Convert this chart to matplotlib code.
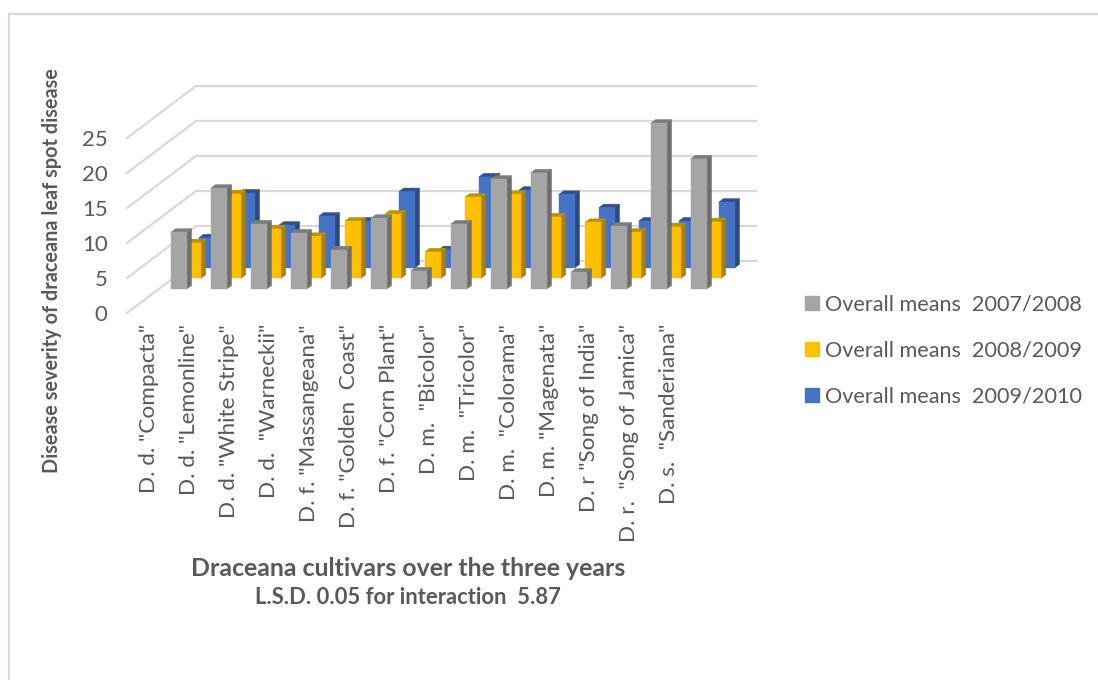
import matplotlib
matplotlib.use("Agg")
import matplotlib.pyplot as plt
import numpy as np
from matplotlib.patches import Patch, Polygon, Rectangle

W, H = 1098, 680

cultivars = ['D. d. "Compacta"', 'D. d. "Lemonline"', 'D. d. "White Stripe"',
             'D. d.  "Warneckii"', 'D. f. "Massangeana"', 'D. f. "Golden  Coast"',
             'D. f. "Corn Plant"', 'D. m.  "Bicolor"', 'D. m.  "Tricolor"',
             'D. m.  "Colorama"', 'D. m. "Magenata"', 'D. r "Song of India"',
             'D. r.  "Song of Jamica"', 'D. s.  "Sanderiana"']

means_2007 = [8.1, 14.4, 9.3, 8.0, 5.6, 10.1, 2.6, 9.3, 15.7, 16.6, 2.4, 9.0, 23.7, 18.6]
means_2008 = [5.1, 12.1, 7.1, 6.0, 8.2, 9.2, 3.8, 11.6, 12.0, 8.8, 8.0, 6.6, 7.4, 8.1]
means_2009 = [4.3, 10.7, 6.1, 7.4, 6.7, 10.9, 2.6, 13.0, 11.1, 10.5, 8.6, 6.7, 6.7, 9.4]

y_ticks = [0, 5, 10, 15, 20, 25]

# front, side and top shade of each series, back row first
series = [
    ("Overall means  2009/2010", means_2009, 0.866, "#4472C4", "#2A4A80", "#2F528F"),
    ("Overall means  2008/2009", means_2008, 0.664, "#FFC000", "#A98000", "#BF9000"),
    ("Overall means  2007/2008", means_2007, 0.460, "#A5A5A5", "#6E6E6E", "#7C7C7C"),
]

# oblique projection of the depth axis, in data units for depth 1
DEPTH_X = 1.725
DEPTH_Y = 7.43
BAR_DEPTH = 0.07
BAR_LEFT = 0.30
BAR_WIDTH = 0.40
TEXT = "#595959"
GRID = "#D9D9D9"

plt.rcParams["font.family"] = ["Lato", "DejaVu Sans"]

fig = plt.figure(figsize=(W / 100, H / 100), dpi=100)
ax = fig.add_axes([127 / W, 1 - 313 / H, 560 / W, 175 / H])
ax.set_xlim(0, 14)
ax.set_ylim(0, 25)
for s in ax.spines.values():
    s.set_visible(False)


def project(x, v, d):
    return x + d * DEPTH_X, v + d * DEPTH_Y


def draw_bar(x, v, d, front, side, top):
    x1 = x + BAR_WIDTH
    d1 = d + BAR_DEPTH
    faces = [
        ([(x1, 0, d), (x1, 0, d1), (x1, v, d1), (x1, v, d)], side),
        ([(x, v, d), (x1, v, d), (x1, v, d1), (x, v, d1)], top),
        ([(x, 0, d), (x1, 0, d), (x1, v, d), (x, v, d)], front),
    ]
    for pts, color in faces:
        ax.add_patch(Polygon([project(*p) for p in pts], closed=True, fc=color,
                             ec=color, lw=0.3, clip_on=False, zorder=3))


# back wall gridlines and the side wall running to the front
for t in y_ticks:
    xs = [0, DEPTH_X, 14 + DEPTH_X]
    ys = [t, t + DEPTH_Y, t + DEPTH_Y]
    ax.plot(xs, ys, color=GRID, lw=1.6, clip_on=False, zorder=1,
            solid_joinstyle="miter")

for name, values, depth, front, side, top in series:
    for i, v in enumerate(values):
        draw_bar(i + BAR_LEFT, v, depth, front, side, top)

ax.set_yticks(y_ticks)
ax.tick_params(axis="y", length=0, pad=14, labelsize=16, labelcolor=TEXT)
ax.set_xticks(np.arange(14) + 0.55)
ax.set_xticklabels(cultivars, rotation=90, ha="center", va="top")
ax.tick_params(axis="x", length=0, pad=8, labelsize=16.2, labelcolor=TEXT)

fig.text(52 / W, 1 - 271 / H, "Disease severity of draceana leaf spot disease",
         rotation=90, ha="center", va="center", fontsize=14.3, fontweight="bold",
         color=TEXT)
fig.text(408 / W, 1 - 568 / H, "Draceana cultivars over the three years",
         ha="center", va="center", fontsize=17.9, fontweight="bold", color=TEXT)
fig.text(408 / W, 1 - 597 / H, "L.S.D. 0.05 for interaction  5.87",
         ha="center", va="center", fontsize=15.8, fontweight="bold", color=TEXT)

handles = [Patch(color=s[3], label=s[0]) for s in reversed(series)]
fig.legend(handles=handles, loc="center left", bbox_to_anchor=(785 / W, 1 - 350.5 / H),
           frameon=False, fontsize=15.6, labelcolor=TEXT, handlelength=0.65,
           handleheight=0.65, handletextpad=0.3, labelspacing=1.2)

# chart area border
fig.add_artist(Rectangle((9 / W, -0.05), 1.1, 1 - 13.5 / H + 0.05, transform=fig.transFigure,
                         fc="none", ec=GRID, lw=1.6))

fig.savefig("out.png", dpi=100, facecolor="white")
